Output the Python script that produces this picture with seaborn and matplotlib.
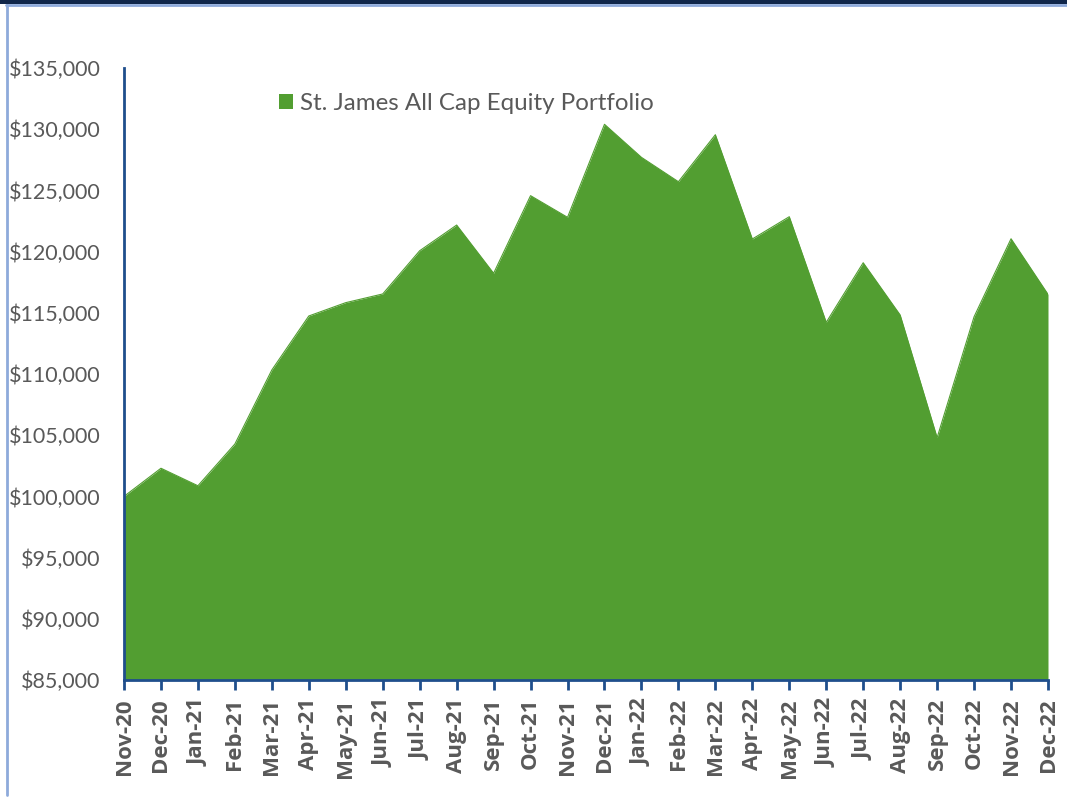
import pandas as pd
import matplotlib
matplotlib.use("Agg")
import matplotlib.pyplot as plt
import seaborn as sns
from matplotlib.patches import Patch, Rectangle
from matplotlib.lines import Line2D
from matplotlib.ticker import FuncFormatter, MultipleLocator

months = ["Nov-20", "Dec-20", "Jan-21", "Feb-21", "Mar-21", "Apr-21", "May-21",
          "Jun-21", "Jul-21", "Aug-21", "Sep-21", "Oct-21", "Nov-21", "Dec-21",
          "Jan-22", "Feb-22", "Mar-22", "Apr-22", "May-22", "Jun-22", "Jul-22",
          "Aug-22", "Sep-22", "Oct-22", "Nov-22", "Dec-22"]
values = [100000, 102300, 100870, 104280, 110330, 114740, 115830, 116540,
          120070, 122170, 118230, 124570, 122800, 130400, 127700, 125710,
          129550, 121030, 122850, 114220, 119090, 114820, 104800, 114680,
          121050, 116510]
series_name = "St. James All Cap Equity Portfolio"

df = pd.DataFrame({"Month": months, "Value": values})
df["pos"] = range(len(df))

green = "#529E31"
axis_blue = "#1F4E8C"
text_grey = "#595959"

sns.set_style("white")
plt.rcParams["font.family"] = ["Lato", "DejaVu Sans"]

fig = plt.figure(figsize=(10.67, 7.99), dpi=100)
ax = fig.add_axes([124 / 1067, 1 - 680 / 799, (1048 - 124) / 1067, (680 - 68) / 799])

# area
ax.fill_between(df["pos"], df["Value"], 85000, color=green, linewidth=0, zorder=2)
sns.lineplot(data=df, x="pos", y="Value", color=green, linewidth=0.8, ax=ax, zorder=3)

ax.set_xlim(0, len(df) - 1)
ax.set_ylim(85000, 135000)
ax.yaxis.set_major_locator(MultipleLocator(5000))
ax.yaxis.set_major_formatter(FuncFormatter(lambda v, p: f"${v:,.0f}"))
ax.set_xticks(df["pos"])
ax.set_xticklabels(df["Month"], rotation=90, fontweight="bold", fontsize=16,
                   color=text_grey, family=["Open Sans", "DejaVu Sans"])
ax.tick_params(axis="y", labelsize=15.5, labelcolor=text_grey, length=0, pad=17)
ax.tick_params(axis="x", direction="out", length=7, width=2, color=axis_blue, pad=6, bottom=True)
ax.set_xlabel("")
ax.set_ylabel("")

for s in ["top", "right"]:
    ax.spines[s].set_visible(False)
for s in ["left", "bottom"]:
    ax.spines[s].set_color(axis_blue)
    ax.spines[s].set_linewidth(2)
    ax.spines[s].set_zorder(5)

handle = Patch(facecolor=green, edgecolor="none")
fig.legend([handle], [series_name], loc="center left",
           bbox_to_anchor=(257 / 1067, 1 - 104 / 799), frameon=False,
           fontsize=17.4, handlelength=0.58, handleheight=0.58, handletextpad=0.29,
           labelcolor=text_grey)

# outer frame: navy band on top, light blue rule
fig.patches.append(Rectangle((0, 1 - 4 / 799), 1, 4 / 799, transform=fig.transFigure,
                             facecolor="#10264A", edgecolor="none"))
fig.lines.append(Line2D([6 / 1067, 1], [1 - 5 / 799, 1 - 5 / 799], transform=fig.transFigure,
                        color="#8EAADB", linewidth=2))
fig.lines.append(Line2D([6.5 / 1067, 6.5 / 1067], [1 - 5 / 799, 4 / 799], transform=fig.transFigure,
                        color="#8EAADB", linewidth=2))

fig.savefig("out.png", dpi=100)
